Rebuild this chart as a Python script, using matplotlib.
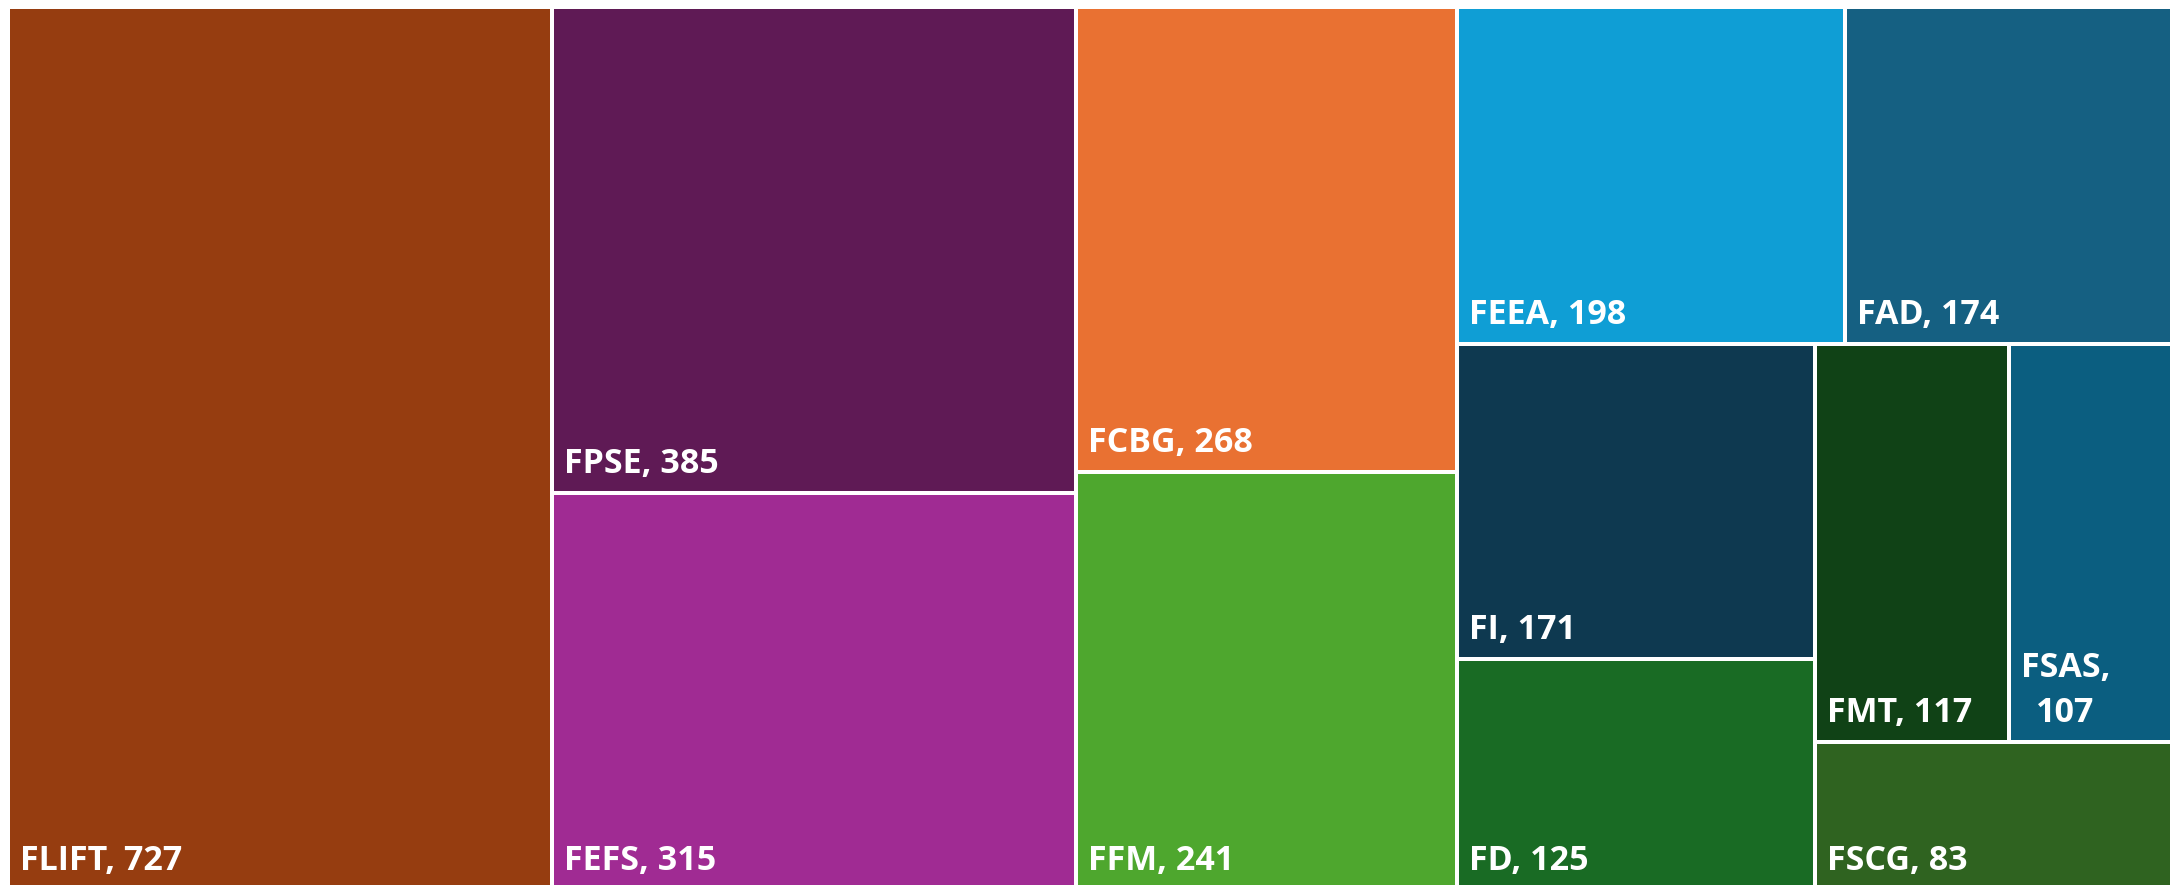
import matplotlib
matplotlib.use("Agg")
import matplotlib.pyplot as plt
from matplotlib.patches import Rectangle

# ---- data ----
labels = ["FLIFT", "FPSE", "FEFS", "FCBG", "FFM", "FEEA", "FAD", "FI", "FD", "FMT", "FSAS", "FSCG"]
values = [727, 385, 315, 268, 241, 198, 174, 171, 125, 117, 107, 83]
colors = ["#963D10", "#5F1A55", "#A02B93", "#E97132", "#4EA72E", "#0F9ED5",
          "#156082", "#0E3950", "#196B24", "#104216", "#0B5E80", "#2F6320"]

# ---- layout parameters ----
FIG_W, FIG_H, DPI = 2170, 885, 100
AREA_X, AREA_Y, AREA_W, AREA_H = 8, 7, 2178, 883   # treemap canvas in px (partly off-image)
GAP = 4
PAD_X, PAD_Y = 10, 18
RATIO = 1.2
FONT = ["Open Sans", "DejaVu Sans"]
FSIZE = 24.5


def squarify(vals, x0, y0, x1, y1, ratio):
    """d3-style squarified treemap; returns list of (x0, y0, x1, y1)."""
    n = len(vals)
    out = [None] * n
    total = float(sum(vals))
    i0 = i1 = 0
    while i0 < n:
        dx, dy = x1 - x0, y1 - y0
        s = vals[i1]; i1 += 1
        mn = mx = s
        alpha = max(dy / dx, dx / dy) / (total * ratio)
        beta = s * s * alpha
        min_ratio = max(mx / beta, beta / mn)
        while i1 < n:
            v = vals[i1]
            s2 = s + v
            mn2, mx2 = min(mn, v), max(mx, v)
            beta = s2 * s2 * alpha
            new_ratio = max(mx2 / beta, beta / mn2)
            if new_ratio > min_ratio:
                break
            s, mn, mx, min_ratio = s2, mn2, mx2, new_ratio
            i1 += 1
        row = list(range(i0, i1))
        if dx < dy:  # dice: horizontal row on top
            yb = y0 + dy * s / total
            cx = x0
            for k in row:
                w = dx * vals[k] / s
                out[k] = (cx, y0, cx + w, yb)
                cx += w
            y0 = yb
        else:  # slice: vertical column on left
            xb = x0 + dx * s / total
            cy = y0
            for k in row:
                h = dy * vals[k] / s
                out[k] = (x0, cy, xb, cy + h)
                cy += h
            x0 = xb
        total -= s
        i0 = i1
    return out


fig = plt.figure(figsize=(FIG_W / DPI, FIG_H / DPI), dpi=DPI)
fig.patch.set_facecolor("white")
ax = fig.add_axes([AREA_X / FIG_W, (FIG_H - AREA_Y - AREA_H) / FIG_H,
                   AREA_W / FIG_W, AREA_H / FIG_H])
ax.set_xlim(0, AREA_W)
ax.set_ylim(AREA_H, 0)
ax.axis("off")

rects = squarify(values, 0, 0, AREA_W, AREA_H, RATIO)
renderer = fig.canvas.get_renderer()
for lab, val, col, (rx0, ry0, rx1, ry1) in zip(labels, values, colors, rects):
    g = GAP / 2
    ax.add_patch(Rectangle((rx0 + g, ry0 + g), rx1 - rx0 - GAP, ry1 - ry0 - GAP,
                           facecolor=col, edgecolor="none", clip_on=False))
    txt = f"{lab}, {val}"
    t = ax.text(rx0 + g + PAD_X, ry1 - g - PAD_Y, txt, color="white",
                fontsize=FSIZE, fontweight="bold", family=FONT,
                ha="left", va="baseline", multialignment="center", clip_on=False)
    bb = t.get_window_extent(renderer=renderer)
    if bb.width > (rx1 - rx0 - GAP) - 2 * PAD_X:
        t.set_text(txt.replace(", ", ",\n"))
        t.set_linespacing(1.45)

fig.savefig("out.png", dpi=DPI)
